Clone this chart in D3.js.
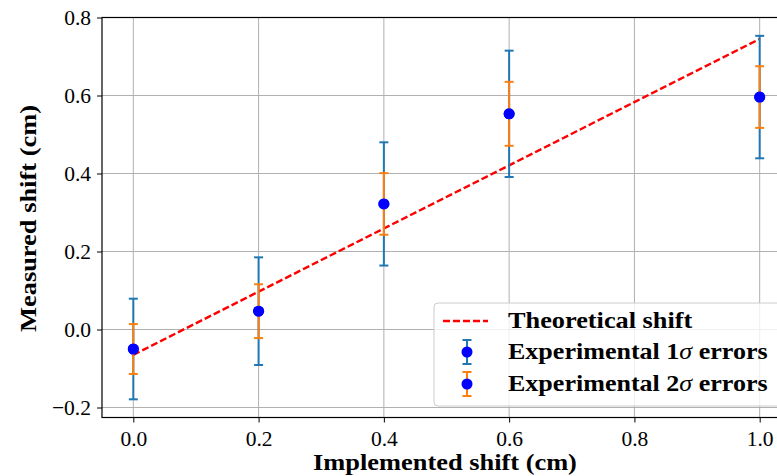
<!DOCTYPE html>
<html><head><meta charset="utf-8">
<script src="https://cdn.jsdelivr.net/npm/d3@7"></script>
<style>body{margin:0;background:#fff}svg{display:block}</style>
</head><body>
<script>
const xs = [0.0, 0.2, 0.4, 0.6, 1.0];
const measured = [-0.050, 0.047, 0.322, 0.553, 0.596];
const err1 = [0.129, 0.138, 0.158, 0.162, 0.157];
const err2 = [0.064, 0.069, 0.079, 0.082, 0.079];
const theoretical = [-0.065, 0.097, 0.259, 0.421, 0.745];
const xTicks = [0.0, 0.2, 0.4, 0.6, 0.8, 1.0];
const yTicks = [-0.2, 0.0, 0.2, 0.4, 0.6, 0.8];
const legendLabels = ["Theoretical shift", "Experimental 1", "Experimental 2"];

const W = 777, H = 476;
const m = {l:102, t:17.5, r:791, b:417.5};
const font = "'Liberation Serif', 'DejaVu Serif', serif";
const svg = d3.select("body").append("svg").attr("width", W).attr("height", H);
const x = d3.scaleLinear().domain([-0.05, 1.05]).range([m.l, m.r]);
const y = d3.scaleLinear().domain([-0.2256, 0.8]).range([m.b, m.t]);

// horizontally stretch a text element (anchored at ax, ay) to a target width
function stretch(sel, target, ax, ay) {
  const w = sel.node().getBBox().width;
  const s = target / w;
  sel.attr("transform", `translate(${ax},${ay}) scale(${s},1) translate(${-ax},${-ay})`);
}

// grid
const g = svg.append("g");
g.selectAll(".gx").data(xTicks).join("line")
  .attr("x1", d=>x(d)).attr("x2", d=>x(d)).attr("y1", m.t).attr("y2", m.b)
  .attr("stroke", "#b0b0b0").attr("stroke-width", 1);
g.selectAll(".gy").data(yTicks).join("line")
  .attr("y1", d=>y(d)).attr("y2", d=>y(d)).attr("x1", m.l).attr("x2", m.r)
  .attr("stroke", "#b0b0b0").attr("stroke-width", 1);

// axes
const fmt = d => (d < 0 ? "\u2212" : "") + Math.abs(d).toFixed(1);
const xAxis = svg.append("g").attr("transform", `translate(0,${m.b})`)
  .call(d3.axisBottom(x).tickValues(xTicks).tickFormat(fmt).tickSizeOuter(0).tickSize(5).tickPadding(8));
const yAxis = svg.append("g").attr("transform", `translate(${m.l},0)`)
  .call(d3.axisLeft(y).tickValues(yTicks).tickFormat(fmt).tickSizeOuter(0).tickSize(5).tickPadding(6));
[xAxis, yAxis].forEach(a => {
  a.select(".domain").remove();
  a.selectAll("line").attr("stroke", "#000").attr("stroke-width", 1);
  a.selectAll("text").attr("font-family", font).attr("font-size", 21.5).attr("fill", "#000");
});
// spines
svg.append("rect").attr("x", m.l).attr("y", m.t).attr("width", m.r - m.l).attr("height", m.b - m.t)
  .attr("fill", "none").attr("stroke", "#000").attr("stroke-width", 1.2);

// theoretical line
svg.append("path").datum(xs.map((d,i)=>[d, theoretical[i]]))
  .attr("d", d3.line().x(d=>x(d[0])).y(d=>y(d[1])))
  .attr("fill", "none").attr("stroke", "#ff0000").attr("stroke-width", 2.4).attr("stroke-dasharray", "7,3");

function errorbars(errs, color) {
  const eg = svg.append("g");
  const data = xs.map((d,i)=>({x:d, y:measured[i], e:errs[i]}));
  eg.selectAll(".v").data(data).join("line")
    .attr("x1", d=>x(d.x)).attr("x2", d=>x(d.x)).attr("y1", d=>y(d.y - d.e)).attr("y2", d=>y(d.y + d.e))
    .attr("stroke", color).attr("stroke-width", 2);
  [-1, 1].forEach(s => {
    eg.selectAll(".c" + s).data(data).join("line")
      .attr("x1", d=>x(d.x) - 4.5).attr("x2", d=>x(d.x) + 4.5)
      .attr("y1", d=>y(d.y + s*d.e)).attr("y2", d=>y(d.y + s*d.e))
      .attr("stroke", color).attr("stroke-width", 2);
  });
  eg.selectAll("circle").data(data).join("circle")
    .attr("cx", d=>x(d.x)).attr("cy", d=>y(d.y)).attr("r", 5.5).attr("fill", "#0000ff");
}
errorbars(err1, "#1f77b4");
errorbars(err2, "#ff7f0e");

// axis labels
const xl = svg.append("text").attr("x", 445).attr("y", 470).attr("text-anchor", "middle")
  .attr("font-family", font).attr("font-size", 22.5).attr("font-weight", "bold").text("Implemented shift (cm)");
stretch(xl, 264, 445, 470);
const yg = svg.append("g").attr("transform", `translate(36,218.5) rotate(-90)`);
const yl = yg.append("text").attr("x", 0).attr("y", 0).attr("text-anchor", "middle")
  .attr("font-family", font).attr("font-size", 22.5).attr("font-weight", "bold").text("Measured shift (cm)");
stretch(yl, 227, 0, 0);

// legend
const lg = svg.append("g");
lg.append("rect").attr("x", 434).attr("y", 303).attr("width", 380).attr("height", 103).attr("rx", 4)
  .attr("fill", "#fff").attr("fill-opacity", 0.8).attr("stroke", "#cccccc").attr("stroke-width", 1);
lg.append("line").attr("x1", 443).attr("x2", 488).attr("y1", 321).attr("y2", 321)
  .attr("stroke", "#ff0000").attr("stroke-width", 2.4).attr("stroke-dasharray", "7,3");
const rows = [321, 352, 384];
[["#1f77b4", rows[1]], ["#ff7f0e", rows[2]]].forEach(([c, cy]) => {
  lg.append("line").attr("x1", 467).attr("x2", 467).attr("y1", cy - 12).attr("y2", cy + 12).attr("stroke", c).attr("stroke-width", 2);
  [-12, 12].forEach(o => lg.append("line").attr("x1", 462.5).attr("x2", 471.5).attr("y1", cy + o).attr("y2", cy + o).attr("stroke", c).attr("stroke-width", 2));
  lg.append("circle").attr("cx", 467).attr("cy", cy).attr("r", 5.5).attr("fill", "#0000ff");
});
const legendWidths = [185, 260, 260];
legendLabels.forEach((t, i) => {
  const by = rows[i] + 7;
  const tx = lg.append("text").attr("x", 508).attr("y", by).attr("font-family", font)
    .attr("font-size", 22.5).attr("font-weight", "bold").attr("fill", "#000");
  tx.append("tspan").text(t);
  if (i > 0) {
    tx.append("tspan").attr("font-style", "italic").attr("font-weight", "normal").text("\u03c3");
    tx.append("tspan").text(" errors");
  }
  stretch(tx, legendWidths[i], 508, by);
});
</script>
</body></html>
